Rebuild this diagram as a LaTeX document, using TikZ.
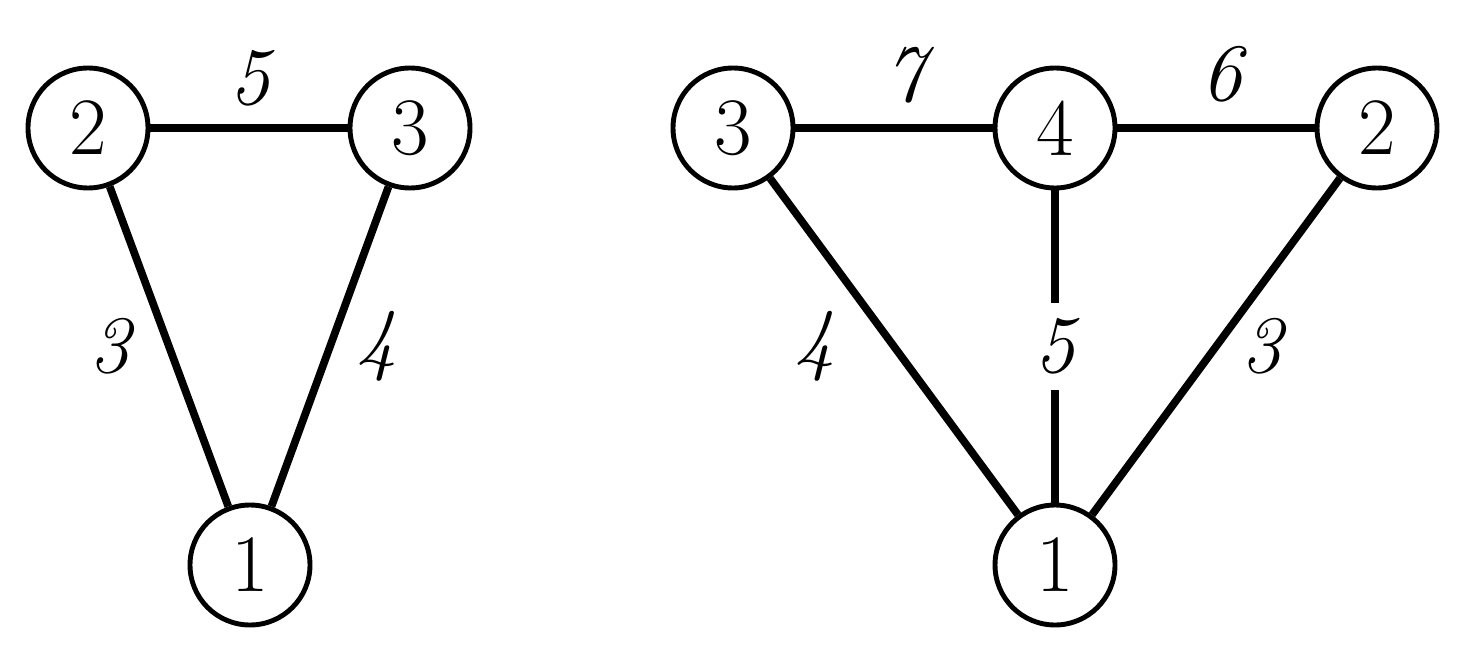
\documentclass[tikz,border=0pt]{standalone}
\usetikzlibrary{calc}
\tikzset{% styles for vertices and weights
  vert/.style={circle, draw, line width=3.5pt, minimum size=3cm, inner sep=0pt},
  wt/.style={font=\fontsize{58}{60}\selectfont\itshape, inner sep=0pt},
  edge/.style={line width=5.5pt}
}

\begin{document}
\begin{tikzpicture}[font=\fontsize{58}{60}\selectfont]
\useasboundingbox (0,0) rectangle (36.7,16.3);

% first graph
\node [vert] (a2) at (2.2,13.1) {2};
\node [vert] (a3) at (10.25,13.1) {3};
\node [vert] (a1) at (6.25,2.175) {1};
\draw [edge] (a2) -- (a3);
\draw [edge] (a2) -- (a1);
\draw [edge] (a3) -- (a1);
\node [wt] at ($(a2)!0.5!(a3)+(0.025,1.25)$) {5};
\node [wt] at ($(a2)!0.5!(a1)+(-1.475,0)$) {3};
\node [wt] at ($(a3)!0.5!(a1)+(1.175,0)$) {4};

% second graph
\node [vert] (b3) at (18.325,13.1) {3};
\node [vert] (b4) at (26.375,13.1) {4};
\node [vert] (b2) at (34.425,13.1) {2};
\node [vert] (b1) at (26.375,2.175) {1};
\draw [edge] (b3) -- (b4);
\draw [edge] (b4) -- (b2);
\draw [edge] (b3) -- (b1);
\draw [edge] (b2) -- (b1);
\draw [edge] (b4) -- node [wt, fill=white, inner sep=0.38cm] (w5) {5} (b1);
\node [wt] at ($(b3)!0.5!(b4)+(0.275,1.325)$) {7};
\node [wt] at ($(b4)!0.5!(b2)+(0.15,1.35)$) {6};
\node [wt] at ($(b3)!0.5!(b1)+(-1.975,0)$) {4};
\node [wt] at ($(b2)!0.5!(b1)+(1.15,0)$) {3};

\end{tikzpicture}
\end{document}
